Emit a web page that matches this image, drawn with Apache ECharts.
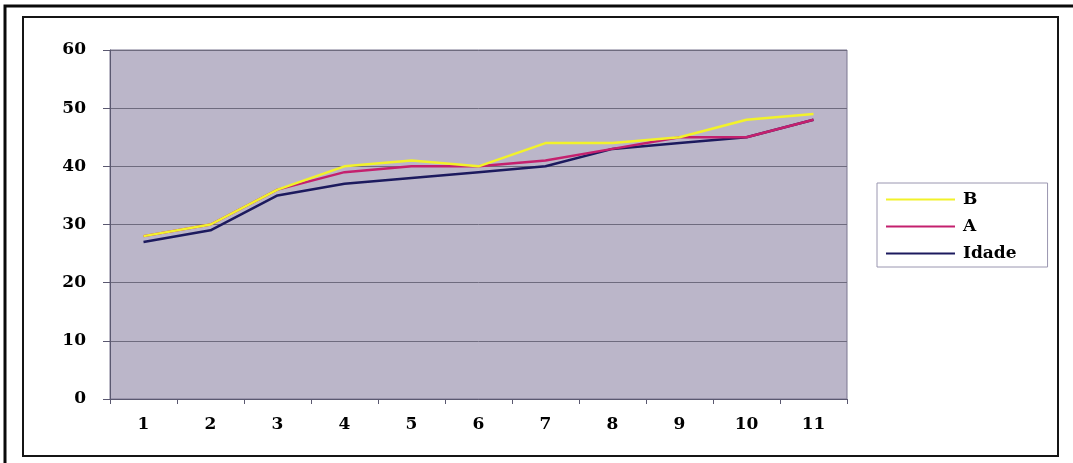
<!DOCTYPE html>
<html>
<head>
<meta charset="utf-8">
<script src="https://cdn.jsdelivr.net/npm/echarts@6/dist/echarts.min.js"></script>
<style>
  html, body { margin: 0; padding: 0; background: #ffffff; }
  #chart { width: 1073px; height: 463px; }
</style>
</head>
<body>
<div id="chart"></div>
<script>
const categories = ['1', '2', '3', '4', '5', '6', '7', '8', '9', '10', '11'];
const seriesB = [28, 30, 36, 40, 41, 40, 44, 44, 45, 48, 49];
const seriesA = [28, 30, 36, 39, 40, 40, 41, 43, 45, 45, 48];
const seriesIdade = [27, 29, 35, 37, 38, 39, 40, 43, 44, 45, 48];
const yTicks = [0, 10, 20, 30, 40, 50, 60];

const font = 'DejaVu Serif, Liberation Serif, serif';
const chart = echarts.init(document.getElementById('chart'), null, { renderer: 'canvas' });

chart.setOption({
  backgroundColor: '#ffffff',
  animation: false,
  graphic: [
    { type: 'rect', shape: { x: 5, y: 6, width: 1100, height: 500 },
      style: { fill: 'none', stroke: '#0a0a0a', lineWidth: 3 }, z: 0 },
    { type: 'rect', shape: { x: 23, y: 17, width: 1035, height: 439 },
      style: { fill: 'none', stroke: '#151515', lineWidth: 2 }, z: 0 }
  ],
  grid: {
    left: 110, top: 50, width: 737, height: 349,
    show: true, backgroundColor: '#bbb6c9', borderColor: '#7a7690', borderWidth: 1
  },
  legend: {
    orient: 'vertical',
    left: 877, top: 183,
    data: [
      { name: 'B', icon: 'rect' },
      { name: 'A', icon: 'rect' },
      { name: 'Idade', icon: 'rect' }
    ],
    itemWidth: 69, itemHeight: 2, itemGap: 10,
    padding: [8, 31, 5, 9],
    borderColor: '#9a96b0', borderWidth: 1,
    textStyle: { fontFamily: font, fontWeight: 'bold', fontSize: 17, color: '#000', padding: [0, 0, 0, 3] }
  },
  xAxis: {
    type: 'category',
    data: categories,
    boundaryGap: true,
    axisLine: { lineStyle: { color: '#5a5870', width: 1 } },
    axisTick: { show: true, length: 5, lineStyle: { color: '#5a5870' } },
    axisLabel: { margin: 17, fontFamily: font, fontWeight: 'bold', fontSize: 17, color: '#000' }
  },
  yAxis: {
    type: 'value',
    min: yTicks[0], max: yTicks[yTicks.length - 1], interval: 10,
    axisLine: { show: true, lineStyle: { color: '#5a5870', width: 1 } },
    axisTick: { show: true, length: 7, lineStyle: { color: '#5a5870' } },
    splitLine: { lineStyle: { color: '#6e6b7e', width: 1 } },
    axisLabel: { margin: 24, fontFamily: font, fontWeight: 'bold', fontSize: 17, color: '#000' }
  },
  series: [
    { name: 'Idade', type: 'line', data: seriesIdade, symbol: 'none', z: 3,
      lineStyle: { color: '#1c1a5e', width: 2.5 }, itemStyle: { color: '#1c1a5e' } },
    { name: 'A', type: 'line', data: seriesA, symbol: 'none', z: 4,
      lineStyle: { color: '#c4206e', width: 2.5 }, itemStyle: { color: '#c4206e' } },
    { name: 'B', type: 'line', data: seriesB, symbol: 'none', z: 5,
      lineStyle: { color: '#f2f22a', width: 2.5 }, itemStyle: { color: '#f2f22a' } }
  ]
});
</script>
</body>
</html>
